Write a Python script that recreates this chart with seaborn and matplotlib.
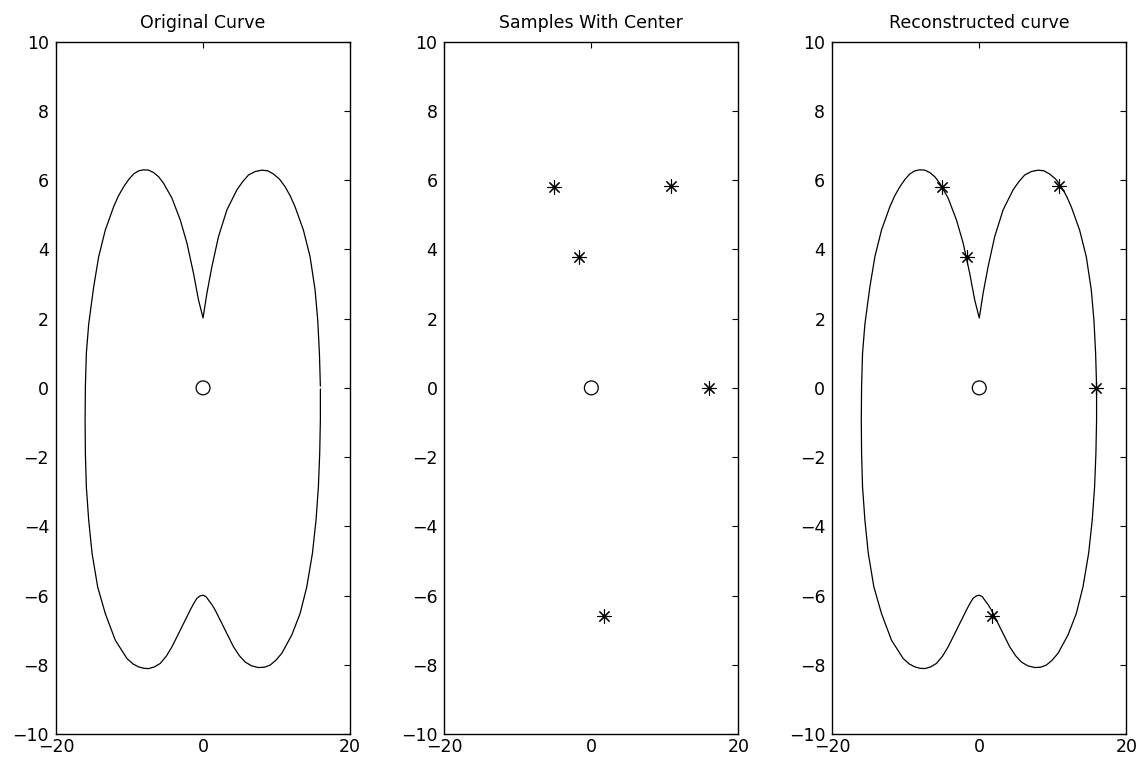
import pandas as pd
import seaborn as sns
import matplotlib.pyplot as plt

# Closed curve (counter-clockwise from the right side)
curve_x = [15.96, 15.83, 15.6, 15.24, 14.56, 13.65, 12.52, 11.85, 11.16, 10.4,
           9.57, 8.8, 8.0, 7.1, 6.18, 5.4, 4.6, 3.24, 2.1, 1.2, 0.52, 0.0,
           -0.62, -1.3, -2.19, -3.1, -4.23, -5.37, -6.05, -6.73, -7.41, -8.09,
           -8.77, -9.45, -10.12, -10.8, -11.5, -12.17, -13.3, -14.2, -14.88,
           -15.56, -15.88, -16.01, -16.05,
           -16.01, -15.88, -15.56, -15.1, -14.34, -13.3, -11.94, -10.35, -9.5,
           -8.77, -8.1, -7.41, -6.6, -5.82, -5.0, -4.23, -2.87, -1.75, -1.3,
           -0.84, -0.4, 0.0,
           0.4, 0.74, 1.2, 1.65, 2.78, 4.14, 4.95, 5.73, 6.6, 7.54, 8.35, 9.12,
           9.9, 10.71, 12.07, 13.2, 14.11, 14.88, 15.37, 15.69, 15.87, 15.96,
           15.96]
curve_y = [0.05, 1.0, 1.96, 2.83, 3.79, 4.56, 5.23, 5.55, 5.81, 6.03,
           6.18, 6.27, 6.29, 6.25, 6.15, 5.96, 5.72, 5.14, 4.37, 3.5, 2.73, 2.02,
           2.54, 3.31, 4.18, 4.85, 5.48, 5.91, 6.10, 6.22, 6.29, 6.30,
           6.27, 6.18, 6.02, 5.81, 5.55, 5.23, 4.56, 3.79, 2.92,
           1.84, 1.0, 0.03, -0.93,
           -1.89, -2.86, -3.82, -4.78, -5.75, -6.52, -7.29, -7.82, -7.98,
           -8.06, -8.10, -8.11, -8.06, -7.96, -7.75, -7.48, -6.9, -6.42, -6.24,
           -6.08, -6.01, -5.99,
           -6.03, -6.13, -6.26, -6.42, -6.9, -7.48, -7.74, -7.92, -8.03, -8.08,
           -8.07, -8.01, -7.87, -7.67, -7.14, -6.52, -5.75, -4.78, -3.82, -2.86,
           -1.89, -0.93, -0.03]

# Sample points and center
sample_x = [-5.07, 10.87, -1.67, 15.95, 1.77]
sample_y = [5.79, 5.84, 3.79, 0.0, -6.59]
center_x = [0.0]
center_y = [0.0]

titles = ['Original Curve', 'Samples With Center', 'Reconstructed curve']

curve = pd.DataFrame({'x': curve_x, 'y': curve_y})
samples = pd.DataFrame({'x': sample_x, 'y': sample_y})
center = pd.DataFrame({'x': center_x, 'y': center_y})

sns.set_style('white')
plt.rcParams['font.family'] = ['DejaVu Sans']
plt.rcParams['font.size'] = 12.5
plt.rcParams['text.color'] = 'black'
plt.rcParams['axes.titlecolor'] = 'black'

fig = plt.figure(figsize=(11.44, 7.67), dpi=100)
lefts = [0.049, 0.3884, 0.7275]
axes = [fig.add_axes([l, 0.043, 0.257, 0.9026]) for l in lefts]

star = (8, 2, 0)

for i, ax in enumerate(axes):
    if i in (0, 2):
        sns.lineplot(data=curve, x='x', y='y', sort=False, estimator=None,
                     color='black', linewidth=0.9, ax=ax)
    if i in (1, 2):
        sns.scatterplot(data=samples, x='x', y='y', marker=star, s=90,
                        color='black', linewidth=0.8, ax=ax)
    sns.scatterplot(data=center, x='x', y='y', marker='o', s=100,
                    facecolor='none', edgecolor='black', linewidth=0.9, ax=ax)

    ax.set_xlim(-20, 20)
    ax.set_ylim(-10, 10)
    ax.set_xticks([-20, 0, 20])
    ax.set_yticks(range(-10, 11, 2))
    ax.set_xlabel('')
    ax.set_ylabel('')
    ax.set_title(titles[i], fontsize=12.5, pad=10, color='black')
    ax.tick_params(direction='in', length=4, width=0.8, top=True, right=True,
                   labelsize=12.5, colors='black')
    ax.tick_params(axis='x', pad=3)
    ax.tick_params(axis='y', pad=5)
    for sp in ax.spines.values():
        sp.set_visible(True)
        sp.set_color('black')
        sp.set_linewidth(1.0)

fig.savefig('out.png', dpi=100, facecolor='white')
